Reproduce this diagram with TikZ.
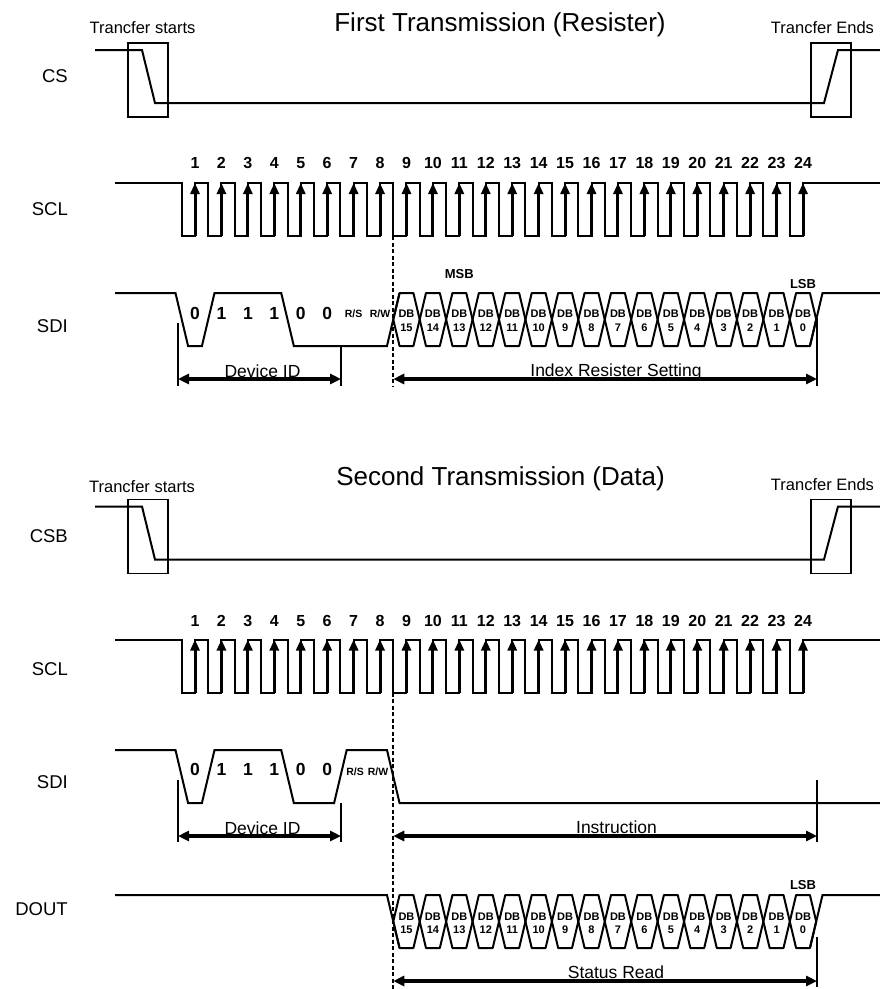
\documentclass[tikz,border=0pt]{standalone}
\usepackage{fontspec}
\setmainfont{Liberation Sans}
\usetikzlibrary{arrows.meta}
\begin{document}
\begin{tikzpicture}[x=1pt,y=-1pt,
  sig/.style={line width=2pt, line join=miter},
  cell/.style={line width=2pt, line join=round},
  tbox/.style={line width=1.7pt},
  dimline/.style={line width=1.1pt},
  dimarrow/.style={line width=3.2pt, {Triangle[length=11pt,width=10pt]}-{Triangle[length=11pt,width=10pt]}},
  clkarrow/.style={line width=3pt, -{Triangle[length=11pt,width=9pt]}},
  guide/.style={line width=1.6pt, dash pattern=on 4pt off 2.5pt},
  title/.style={font=\fontsize{26}{26}\selectfont, anchor=base, inner sep=0pt},
  note/.style={font=\fontsize{16.5}{16.5}\selectfont, anchor=base, inner sep=0pt},
  siglabel/.style={font=\fontsize{18.5}{18.5}\selectfont, anchor=base east, inner sep=0pt},
  dimtext/.style={font=\fontsize{17.5}{17.5}\selectfont, anchor=base, inner sep=0pt},
  clknum/.style={font=\fontsize{16}{16}\selectfont\bfseries, anchor=base, inner sep=0pt},
  bit/.style={font=\fontsize{17.5}{17.5}\selectfont\bfseries, anchor=base, inner sep=0pt},
  rw/.style={font=\fontsize{10.5}{10.5}\selectfont\bfseries, anchor=base, inner sep=0pt},
  db/.style={font=\fontsize{11}{11}\selectfont\bfseries, anchor=base, inner sep=0pt},
  msb/.style={font=\fontsize{13}{13}\selectfont\bfseries, anchor=base, inner sep=0pt},
]
\fill[white] (0,0) rectangle (880,989);
\useasboundingbox (0,0) rectangle (880,989);

% ================= FIRST TRANSMISSION =================
\node[title] (t1) at (500,31) {First Transmission (Resister)};
\node[note] (s1) at (142.5,33) {Trancfer starts};
\node[note] (e1) at (822.5,33) {Trancfer Ends};
\node[siglabel] (lcs) at (68,82) {CS};
\node[siglabel] (lscl1) at (68,215) {SCL};
\node[siglabel] (lsdi1) at (68,332) {SDI};

% CS
\draw[sig] (95,50) -- (142,50) -- (155,103) -- (824,103) -- (838,50) -- (880,50);
\draw[tbox] (128,43) rectangle (168,117);
\draw[tbox] (811,43) rectangle (851,117);

% SCL
\draw[sig] (115,183) foreach \k in {1,...,24}{
  -- ({181.7825+(\k-1)*26.435},183) -- ({181.7825+(\k-1)*26.435},236)
  -- ({195+(\k-1)*26.435},236) -- ({195+(\k-1)*26.435},183) } -- (880,183);
\foreach \k in {1,...,24}{
  \draw[clkarrow] ({195+(\k-1)*26.435},236) -- ({195+(\k-1)*26.435},183);
  \node[clknum] (na\k) at ({195+(\k-1)*26.435},168) {\k};
}

% SDI
\draw[sig] (115,293) -- (175.48,293) -- (188.08,346) -- (201.92,346) -- (214.52,293)
  -- (281.23,293) -- (293.83,346) -- (386.96,346) -- (399.56,293);
\foreach \j in {0,...,15}{
  \pgfmathsetmacro\ca{393.2625+\j*26.435}
  \pgfmathsetmacro\cb{\ca+26.435}
  \draw[cell] (\ca,319.5) -- (\ca+6.3,293) -- (\cb-6.3,293) -- (\cb,319.5) -- (\cb-6.3,346) -- (\ca+6.3,346) -- cycle;
  \pgfmathtruncatemacro\n{15-\j}
  \node[db] (dba\j) at ({\ca+13.2175},317) {DB};
  \node[db] (nba\j) at ({\ca+13.2175},331) {\n};
}
\draw[sig] (809.92,346) -- (822.52,293) -- (880,293);
\foreach \k/\t in {1/0,2/1,3/1,4/1,5/0,6/0}{
  \node[bit] (ba\k) at ({195+(\k-1)*26.435},319) {\t};
}
\node[rw] (rsa) at (353.6,317) {R/S};
\node[rw] (rwa) at (380,317) {R/W};
\node[msb] (msb1) at (459.35,278) {MSB};
\node[msb] (lsb1) at (803,288) {LSB};

% dimensions
\draw[guide] (393.26,236) -- (393.26,386);
\draw[dimline] (178,323) -- (178,386);
\draw[dimline] (341,346) -- (341,386);
\draw[dimline] (817,318) -- (817,386);
\coordinate (da1) at (178,379); \coordinate (db1) at (341,379);
\coordinate (ia1) at (393.26,379); \coordinate (ib1) at (817,379);
\draw[dimarrow] (da1) -- (db1);
\draw[dimarrow] (ia1) -- (ib1);
\node[dimtext] (devid1) at (262.5,377) {Device ID};
\node[dimtext] (irs) at (616,376) {Index Resister Setting};

% ================= SECOND TRANSMISSION =================
\node[title] (t2) at (500.5,485) {Second Transmission (Data)};
\node[note] (s2) at (142,492) {Trancfer starts};
\node[note] (e2) at (822.5,490) {Trancfer Ends};
\node[siglabel] (lcsb) at (68,542) {CSB};
\node[siglabel] (lscl2) at (68,675) {SCL};
\node[siglabel] (lsdi2) at (68,788) {SDI};
\node[siglabel] (ldout) at (68,915) {DOUT};

% CSB
\draw[sig] (95,506.5) -- (142,506.5) -- (155,559.5) -- (824,559.5) -- (838,506.5) -- (880,506.5);
\draw[tbox] (128,499.5) rectangle (168,573.5);
\draw[tbox] (811,499.5) rectangle (851,573.5);

% SCL
\draw[sig] (115,639.5) foreach \k in {1,...,24}{
  -- ({181.7825+(\k-1)*26.435},639.5) -- ({181.7825+(\k-1)*26.435},692.5)
  -- ({195+(\k-1)*26.435},692.5) -- ({195+(\k-1)*26.435},639.5) } -- (880,639.5);
\foreach \k in {1,...,24}{
  \draw[clkarrow] ({195+(\k-1)*26.435},692.5) -- ({195+(\k-1)*26.435},639.5);
  \node[clknum] (nb\k) at ({195+(\k-1)*26.435},626) {\k};
}

% SDI
\draw[sig] (115,750) -- (175.48,750) -- (188.08,803) -- (201.92,803) -- (214.52,750)
  -- (281.23,750) -- (293.83,803) -- (334.10,803) -- (346.70,750)
  -- (386.96,750) -- (399.56,803) -- (880,803);
\foreach \k/\t in {1/0,2/1,3/1,4/1,5/0,6/0}{
  \node[bit] (bb\k) at ({195+(\k-1)*26.435},775) {\t};
}
\node[rw] (rsb) at (355,775) {R/S};
\node[rw] (rwb) at (378,775) {R/W};

% DOUT
\draw[sig] (115,895) -- (386.96,895) -- (399.56,948);
\foreach \j in {0,...,15}{
  \pgfmathsetmacro\ca{393.2625+\j*26.435}
  \pgfmathsetmacro\cb{\ca+26.435}
  \draw[cell] (\ca,921.5) -- (\ca+6.3,895) -- (\cb-6.3,895) -- (\cb,921.5) -- (\cb-6.3,948) -- (\ca+6.3,948) -- cycle;
  \pgfmathtruncatemacro\n{15-\j}
  \node[db] (dbb\j) at ({\ca+13.2175},920) {DB};
  \node[db] (nbb\j) at ({\ca+13.2175},933) {\n};
}
\draw[sig] (809.92,948) -- (822.52,895) -- (880,895);
\node[msb] (lsb2) at (803,889) {LSB};

% dimensions
\draw[guide] (393.26,692.5) -- (393.26,989);
\draw[dimline] (178,780) -- (178,842);
\draw[dimline] (341,803) -- (341,842);
\draw[dimline] (817,780) -- (817,842);
\draw[dimline] (817,937) -- (817,987);
\coordinate (da2) at (178,836); \coordinate (db2) at (341,836);
\coordinate (ia2) at (393.26,836); \coordinate (ib2) at (817,836);
\coordinate (sa2) at (393.26,981); \coordinate (sb2) at (817,981);
\draw[dimarrow] (da2) -- (db2);
\draw[dimarrow] (ia2) -- (ib2);
\draw[dimarrow] (sa2) -- (sb2);
\node[dimtext] (devid2) at (262.5,834) {Device ID};
\node[dimtext] (instr) at (616.5,833) {Instruction};
\node[dimtext] (sread) at (616,978) {Status Read};
\end{tikzpicture}
\end{document}
